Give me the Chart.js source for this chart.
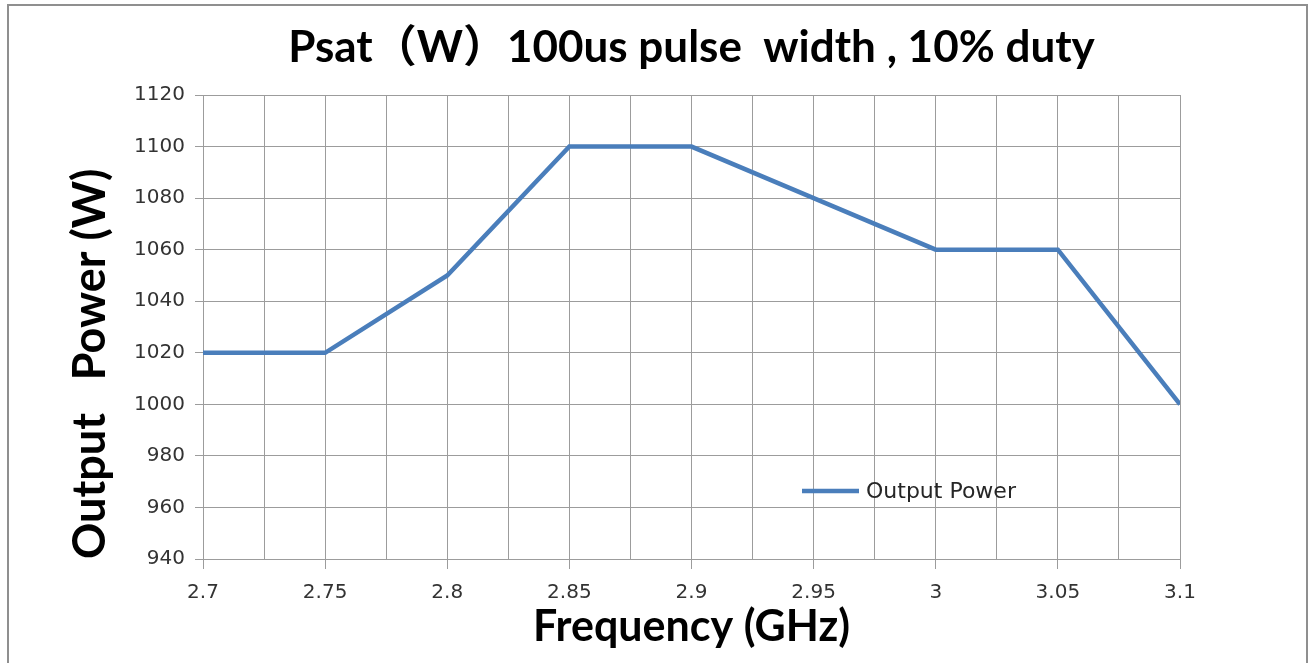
<!DOCTYPE html>
<html>
<head>
<meta charset="utf-8">
<title>Psat 100us pulse width, 10% duty</title>
<script src="https://cdn.jsdelivr.net/npm/chart.js@4.4.1/dist/chart.umd.min.js"></script>
<style>
  html, body { margin: 0; padding: 0; background: #fff; }
  #wrap { position: relative; width: 1309px; height: 663px; }
</style>
</head>
<body>
<div id="wrap"><canvas id="psatChart"></canvas></div>
<script>
// chart data
const frequencies = [2.7, 2.75, 2.8, 2.85, 2.9, 2.95, 3.0, 3.05, 3.1];
const outputPower = [1020, 1020, 1050, 1100, 1100, 1080, 1060, 1060, 1000];
const seriesLabel = "Output Power";
const chartTitle = "Psat（W）100us pulse  width , 10% duty";
const xTitle = "Frequency (GHz)";
const yTitle = "Output   Power (W)";
const xRange = [2.7, 3.1];
const yRange = [940, 1120];
const xStep = 0.025;
const xLabelStep = 0.05;
const yStep = 20;

const gridGrey = "#9c9c9c";
const lineBlue = "#4a7ebb";
const tickFont = { family: "'DejaVu Sans', sans-serif", size: 20 };
const boldFont = "Lato, 'Noto Sans CJK SC', sans-serif";

const isLabelled = (v) => Math.abs(Math.round(v / xLabelStep) * xLabelStep - v) < 1e-6;

// white page with the grey frame round it
const framePlugin = {
  id: "frame",
  beforeDraw(chart) {
    const ctx = chart.ctx;
    ctx.save();
    ctx.fillStyle = "#fff";
    ctx.fillRect(0, 0, chart.width, chart.height);
    ctx.strokeStyle = "#8f8f8f";
    ctx.lineWidth = 2;
    ctx.strokeRect(8, 5, chart.width - 10, chart.height + 20);
    ctx.restore();
  }
};

// legend sits inside the plot, lower right
const innerLegend = {
  id: "innerLegend",
  afterDatasetsDraw(chart) {
    const { ctx, chartArea } = chart;
    const ds = chart.data.datasets[0];
    const x = chartArea.right - 378;
    const y = chartArea.bottom - 68;
    ctx.save();
    ctx.strokeStyle = ds.borderColor;
    ctx.lineWidth = ds.borderWidth;
    ctx.beginPath();
    ctx.moveTo(x, y);
    ctx.lineTo(x + 57, y);
    ctx.stroke();
    ctx.fillStyle = "#262626";
    ctx.font = "22px 'DejaVu Sans', sans-serif";
    ctx.textBaseline = "middle";
    ctx.fillText(ds.label, x + 64, y + 1);
    ctx.restore();
  }
};

new Chart(document.getElementById("psatChart"), {
  type: "line",
  data: {
    datasets: [{
      label: seriesLabel,
      data: frequencies.map((f, i) => ({ x: f, y: outputPower[i] })),
      borderColor: lineBlue,
      backgroundColor: lineBlue,
      borderWidth: 4.5,
      pointRadius: 0,
      tension: 0,
      fill: false
    }]
  },
  options: {
    responsive: true,
    maintainAspectRatio: false,
    animation: false,
    layout: { padding: { left: 0, right: 129, top: 0, bottom: 0 } },
    plugins: {
      legend: { display: false },
      tooltip: { enabled: false },
      title: {
        display: true,
        text: chartTitle,
        fullSize: false,
        color: "#000",
        font: { family: boldFont, size: 44, weight: "bold", lineHeight: 1.1 },
        padding: { top: 24, bottom: 22.6 }
      }
    },
    scales: {
      x: {
        type: "linear",
        min: xRange[0],
        max: xRange[1],
        afterFit(scale) { scale.height = 104; },
        ticks: {
          stepSize: xStep,
          autoSkip: false,
          maxRotation: 0,
          padding: 12,
          color: "#333",
          font: tickFont,
          callback: (v) => isLabelled(v) ? String(Number(v.toFixed(2))) : ""
        },
        grid: {
          color: gridGrey,
          lineWidth: 1,
          tickLength: 10,
          tickColor: (ctx) => (ctx.tick && isLabelled(ctx.tick.value)) ? gridGrey : "rgba(0,0,0,0)"
        },
        border: { color: gridGrey, width: 1 },
        title: {
          display: true,
          text: xTitle,
          color: "#000",
          font: { family: boldFont, size: 43, weight: "bold", lineHeight: 1.2 },
          padding: { top: 0, bottom: 10 }
        }
      },
      y: {
        min: yRange[0],
        max: yRange[1],
        afterFit(scale) { scale.width = 203; },
        ticks: {
          stepSize: yStep,
          padding: 10,
          color: "#333",
          font: tickFont,
          callback: (v) => String(v)
        },
        grid: { color: gridGrey, lineWidth: 1, tickLength: 8, tickColor: gridGrey },
        border: { color: gridGrey, width: 1 },
        title: {
          display: true,
          text: yTitle,
          align: "start",
          color: "#000",
          font: { family: boldFont, size: 45, weight: "bold", lineHeight: 1.2 },
          padding: { top: 63, bottom: 0 }
        }
      }
    }
  },
  plugins: [framePlugin, innerLegend]
});
</script>
</body>
</html>
